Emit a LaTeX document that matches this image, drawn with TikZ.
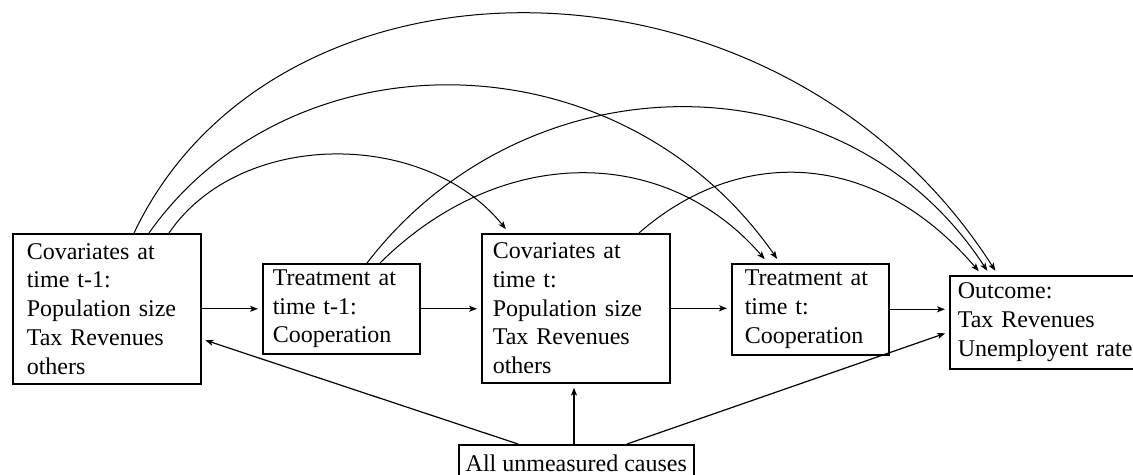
\documentclass[tikz,border=0pt]{standalone}
\usepackage{fontspec}
\setmainfont{Liberation Serif}
\usetikzlibrary{arrows.meta,calc}
\begin{document}
\begin{tikzpicture}[x=0.5pt,y=-0.5pt,
  every node/.style={font=\fontsize{12pt}{14.4pt}\selectfont},
  box/.style={draw, line width=0.8pt, align=left, anchor=north west, inner ysep=0pt},
  link/.style={-{Stealth[length=4pt,width=3pt,inset=1pt]}, line width=0.6pt, shorten >=2pt},
  arc/.style={-{Stealth[length=4pt,width=3pt,inset=1pt]}, line width=0.5pt, shorten >=2.5pt}]
\useasboundingbox (0,0) rectangle (1133,475);
% boxes
\node[box, text width=80pt, inner xsep=7pt, minimum height=75pt] (A) at (12,233)
  {Covariates at\\time t-1:\\Population size\\Tax Revenues\\others};
\node[box, text width=68.5pt, inner xsep=5pt, minimum height=45pt] (B) at (262,263)
  {Treatment at\\time t-1:\\Cooperation};
\node[box, text width=83pt, inner xsep=5.5pt, minimum height=74.5pt] (C) at (481,233)
  {Covariates at\\time t:\\Population size\\Tax Revenues\\others};
\node[box, text width=65.5pt, inner xsep=6.5pt, minimum height=45.5pt] (D) at (731,263)
  {Treatment at\\time t:\\Cooperation};
\node[box, text width=88pt, inner xsep=4pt, minimum height=46.5pt] (E) at (949,275)
  {Outcome:\\Tax Revenues\\Unemployent rate};
\node[box, inner xsep=0pt, minimum width=117.5pt, minimum height=18pt] (F) at (458,444)
  {All unmeasured causes};
% straight links
\draw[link] (A.east) -- (B.west);
\draw[link] (B.east) -- (B.east -| C.west);
\draw[link] (C.east) -- (C.east -| D.west);
\draw[link] (D.east) -- (D.east -| E.west);
\coordinate (f1) at ($(F.north west)+(60,0)$);
\coordinate (f2) at ($(F.north west)+(116,0)$);
\coordinate (f3) at ($(F.north west)+(169,0)$);
\draw[link] (f1) -- ($(A.north east)+(0,106)$);
\draw[link] (f2) -- (f2 |- C.south);
\draw[link] (f3) -- ($(E.north west)+(0,57)$);
% curved links
\draw[arc] ($(A.north west)+(122,0)$) .. controls (276,-66) and (780,-66) .. ($(E.north west)+(49,0)$);
\draw[arc] ($(A.north west)+(137,0)$) .. controls (291,32) and (619,32) .. ($(D.north west)+(49,0)$);
\draw[arc] ($(A.north west)+(157,0)$) .. controls (240,129) and (425,129) .. ($(C.north west)+(28,0)$);
\draw[arc] ($(B.north west)+(105,0)$) .. controls (528,54) and (846,54) .. ($(E.north west)+(41,0)$);
\draw[arc] ($(B.north west)+(118,0)$) .. controls (500,144) and (665,144) .. ($(D.north west)+(37,0)$);
\draw[arc] ($(C.north west)+(158,0)$) .. controls (737,147) and (872,147) .. ($(E.north west)+(33,0)$);
\end{tikzpicture}
\end{document}
